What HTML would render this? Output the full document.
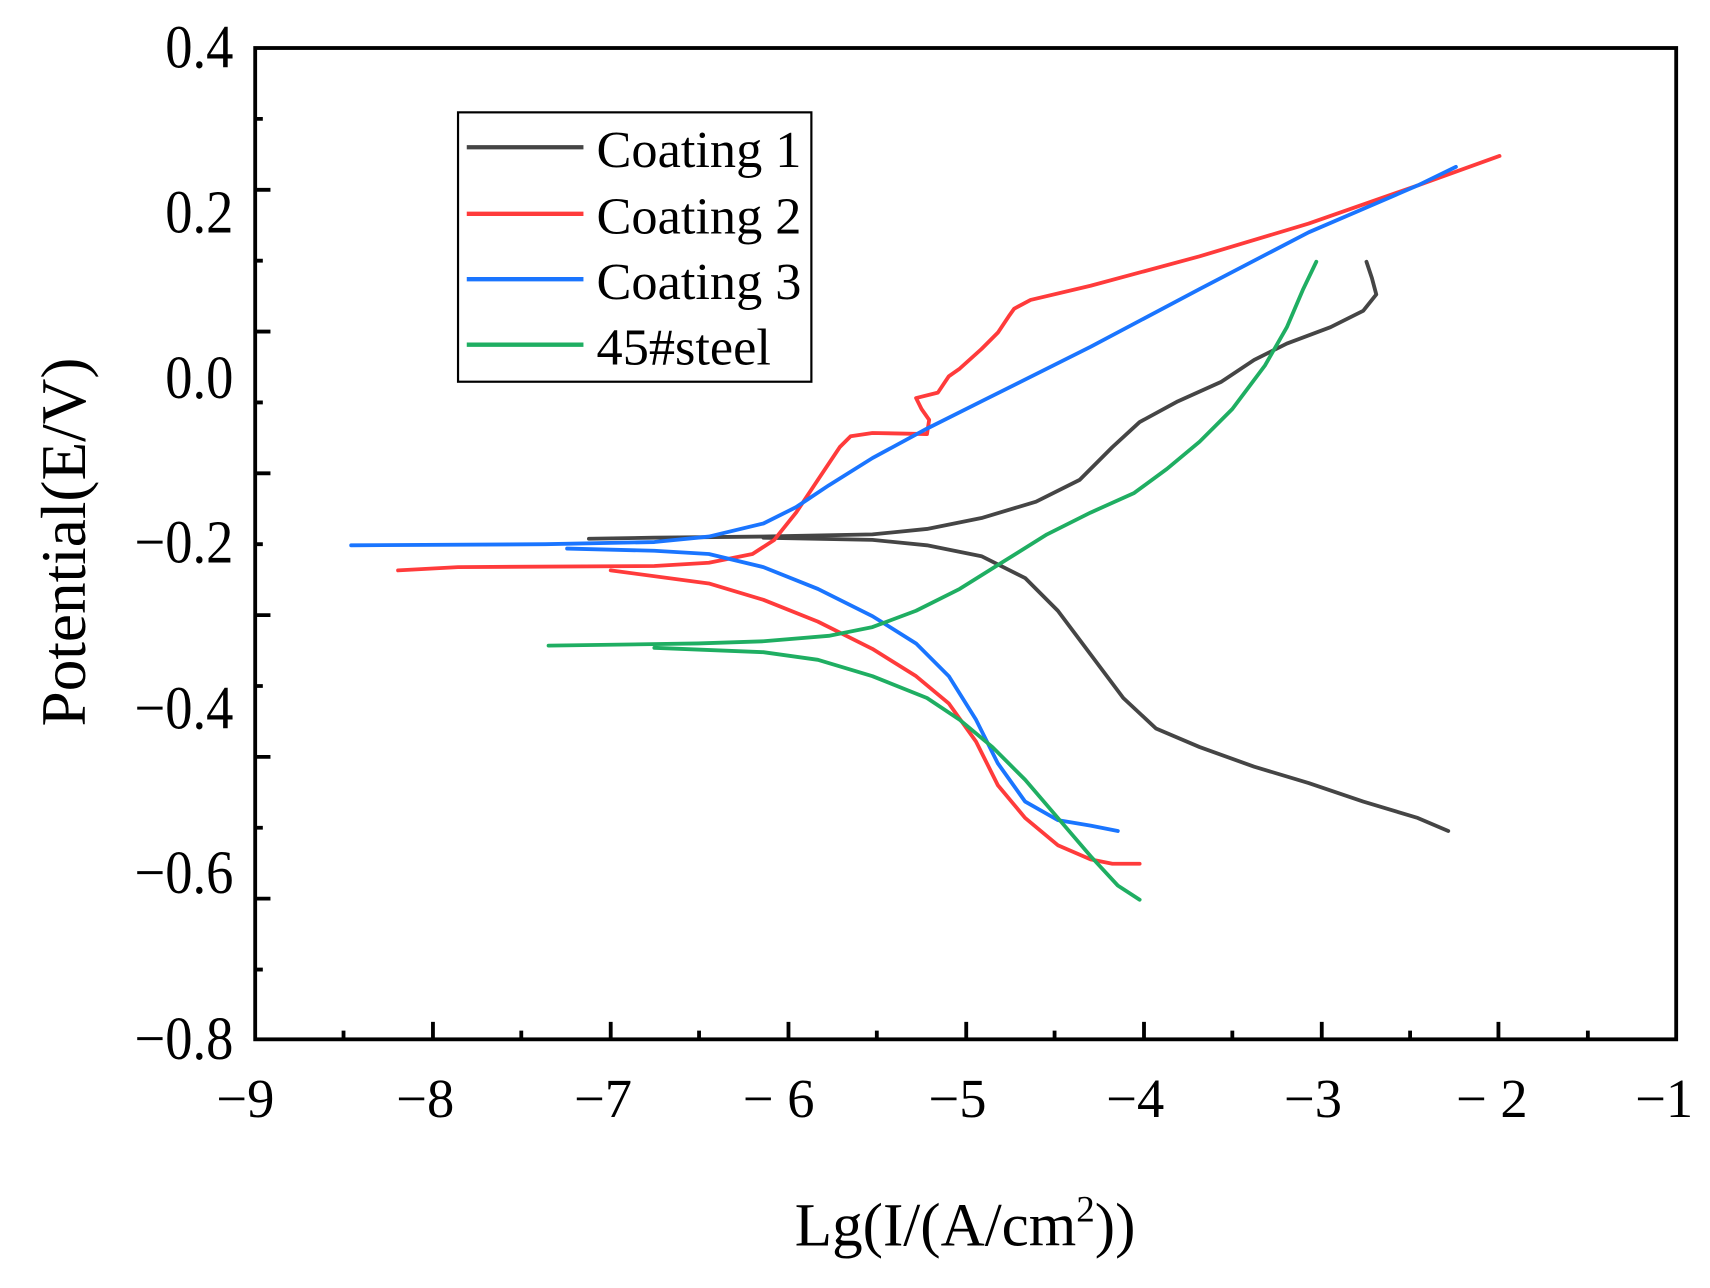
<!DOCTYPE html>
<html><head><meta charset="utf-8"><style>html,body{margin:0;padding:0;background:#fff;}svg{display:block}</style></head>
<body>
<svg width="1710" height="1288" viewBox="0 0 1568 1181" xmlns="http://www.w3.org/2000/svg" font-family="Liberation Serif, serif">
<rect width="1568" height="1181" fill="#fff"/>
<g stroke="#000" stroke-width="3.5" fill="none">
<rect x="234" y="44" width="1303" height="909"/>
<path d="M234,109h7M234,174h14M234,239h7M234,304h14M234,369h7M234,434h14M234,499h7M234,564h14M234,629h7M234,694h14M234,759h7M234,824h14M234,889h7"/>
<path d="M315,953v-8M397,953v-16M478,953v-8M560,953v-16M641,953v-8M723,953v-16M804,953v-8M886,953v-16M967,953v-8M1049,953v-16M1130,953v-8M1212,953v-16M1293,953v-8M1374,953v-16M1456,953v-8"/>
</g>
<g font-size="50" fill="#000" text-anchor="end">
<text x="214" y="62" transform="translate(214,62) scale(1,1.12) translate(-214,-62)">0.4</text>
<text x="214" y="213" transform="translate(214,213) scale(1,1.12) translate(-214,-213)">0.2</text>
<text x="214" y="365" transform="translate(214,365) scale(1,1.12) translate(-214,-365)">0.0</text>
<text x="214" y="516" transform="translate(214,516) scale(1,1.12) translate(-214,-516)">−0.2</text>
<text x="214" y="668" transform="translate(214,668) scale(1,1.12) translate(-214,-668)">−0.4</text>
<text x="214" y="819" transform="translate(214,819) scale(1,1.12) translate(-214,-819)">−0.6</text>
<text x="214" y="971" transform="translate(214,971) scale(1,1.12) translate(-214,-971)">−0.8</text>
</g>
<g font-size="50" fill="#000" text-anchor="middle">
<text x="225" y="1024">−9</text>
<text x="390" y="1024">−8</text>
<text x="553" y="1024">−7</text>
<text x="714" y="1024">− 6</text>
<text x="878" y="1024">−5</text>
<text x="1041" y="1024">−4</text>
<text x="1204" y="1024">−3</text>
<text x="1368" y="1024">− 2</text>
<text x="1526" y="1024">−1</text>
</g>
<text x="885" y="1142" font-size="56" text-anchor="middle">Lg(I/(A/cm<tspan font-size="34" dy="-22">2</tspan><tspan dy="22">))</tspan></text>
<text transform="translate(78,497) rotate(-90)" font-size="58" text-anchor="middle">Potential(E/V)</text>
<g fill="none" stroke-width="3.5" stroke-linejoin="round" stroke-linecap="round">
<polyline stroke="#454545" points="540,494 600,493 700,492 800,490 850,485 900,475 950,460 990,440 1020,410 1045,387 1080,368 1120,350 1150,330 1180,315 1220,300 1250,285 1262,270 1258,255 1253,240"/>
<polyline stroke="#454545" points="700,493 800,495 850,500 900,510 940,530 970,560 1000,600 1030,640 1060,668 1100,685 1150,703 1200,718 1250,735 1300,750 1328,762"/>
<polyline stroke="#ff3b3b" points="365,523 420,520 600,519 650,516 690,508 710,495 730,470 750,440 770,410 780,400 800,397 850,398 852,385 845,375 840,365 860,360 870,345 880,338 900,320 915,305 925,290 930,283 945,275 1000,262 1100,235 1200,205 1300,170 1375,143"/>
<polyline stroke="#ff3b3b" points="560,523 650,535 700,550 750,570 800,595 840,620 870,645 895,680 915,720 940,750 970,775 1000,788 1020,792 1045,792"/>
<polyline stroke="#1a75ff" points="322,500 500,499 600,497 650,492 700,480 730,465 760,445 800,420 850,393 900,368 1000,318 1100,265 1200,213 1300,170 1335,153"/>
<polyline stroke="#1a75ff" points="520,503 600,505 650,508 700,520 750,540 800,565 840,590 870,620 895,660 915,700 940,735 970,752 1000,757 1025,762"/>
<polyline stroke="#1fae62" points="503,592 640,590 700,588 760,583 800,575 840,560 880,540 920,515 960,490 1000,470 1040,452 1070,430 1100,405 1130,375 1160,335 1180,300 1195,265 1207,240"/>
<polyline stroke="#1fae62" points="600,594 700,598 750,605 800,620 850,640 880,660 910,685 940,715 970,750 1000,785 1025,812 1045,825"/>
</g>
<rect x="420" y="103" width="324" height="247" fill="#fff" stroke="#000" stroke-width="2"/>
<g stroke-width="4">
<line x1="428" y1="135" x2="535" y2="135" stroke="#454545"/>
<line x1="428" y1="196" x2="535" y2="196" stroke="#ff3b3b"/>
<line x1="428" y1="256" x2="535" y2="256" stroke="#1a75ff"/>
<line x1="428" y1="316" x2="535" y2="316" stroke="#1fae62"/>
</g>
<g font-size="48" fill="#000">
<text x="547" y="153">Coating 1</text>
<text x="547" y="214">Coating 2</text>
<text x="547" y="274">Coating 3</text>
<text x="547" y="334">45#steel</text>
</g>
</svg>
</body></html>
